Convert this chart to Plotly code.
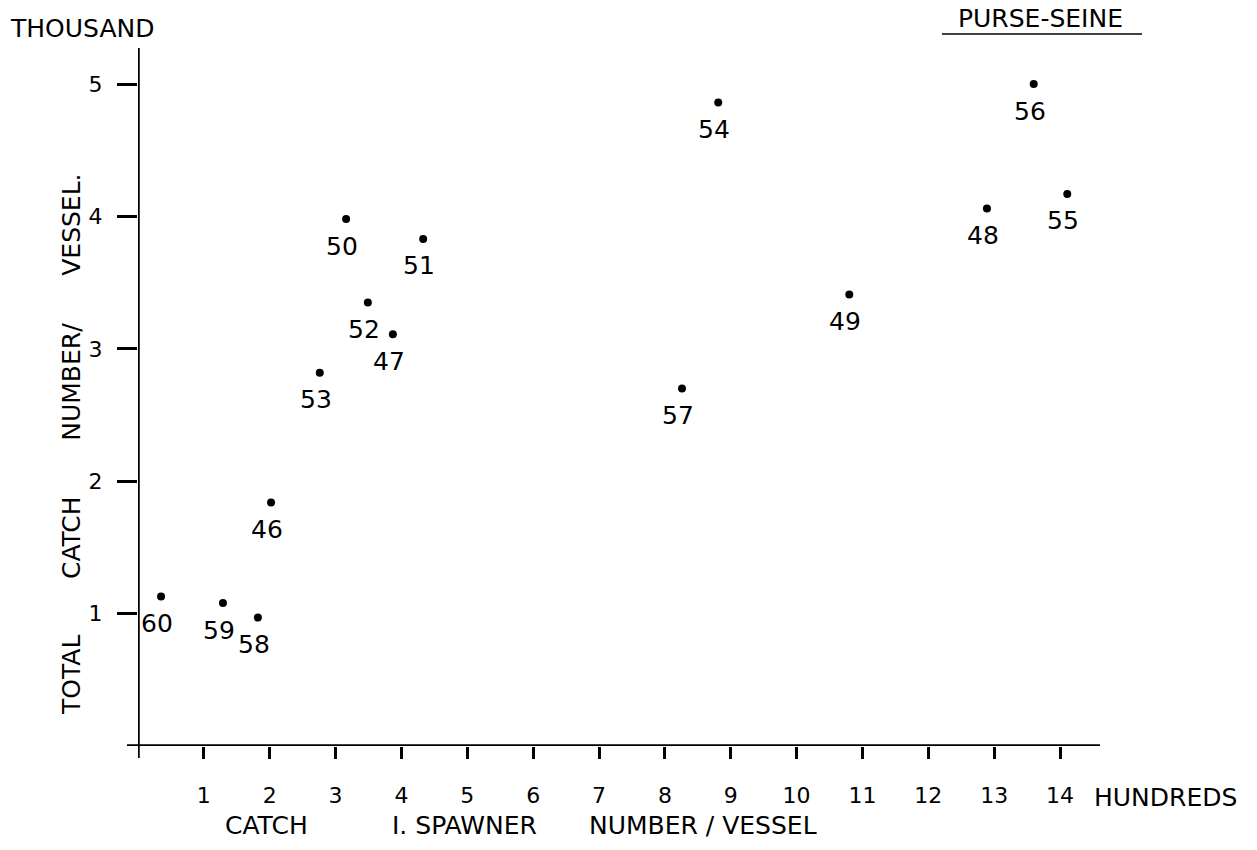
import plotly.graph_objects as go

# ---- data ----
years = ["46", "47", "48", "49", "50", "51", "52", "53", "54", "55", "56", "57", "58", "59", "60"]
spawner_catch = [2.02, 3.87, 12.89, 10.80, 3.16, 4.33, 3.49, 2.76, 8.81, 14.11, 13.60, 8.26, 1.82, 1.29, 0.35]  # hundreds
total_catch = [1.84, 3.11, 4.06, 3.41, 3.98, 3.83, 3.35, 2.82, 4.86, 4.17, 5.00, 2.70, 0.97, 1.08, 1.13]  # thousand
x_ticks = list(range(1, 15))
y_ticks = [1, 2, 3, 4, 5]

# ---- layout constants ----
W, H = 1257, 850
ML, MR, MT, MB = 138, 157, 48, 104
PW, PH = W - ML - MR, H - MT - MB
FONT = "DejaVu Sans"
SP = "\u00a0"


def px(xp):
    return (xp - ML) / PW


def py(yp):
    return (H - MB - yp) / PH


fig = go.Figure()
fig.add_trace(go.Scatter(
    x=spawner_catch, y=total_catch, mode="markers",
    marker=dict(size=8, color="black"),
    hoverinfo="text", text=years, showlegend=False,
))

annotations = []
for xv, yv, lab in zip(spawner_catch, total_catch, years):
    annotations.append(dict(x=xv, y=yv, xref="x", yref="y", text=lab, showarrow=False,
                            yshift=-27, xshift=-4,
                            font=dict(family=FONT, size=25, color="black")))

# titles / labels
annotations += [
    dict(x=px(8), y=py(28), xref="paper", yref="paper", text="THOUSAND", showarrow=False,
         xanchor="left", yanchor="middle", font=dict(family=FONT, size=25, color="black")),
    dict(x=px(1040), y=py(18), xref="paper", yref="paper", text="PURSE-SEINE", showarrow=False,
         xanchor="center", yanchor="middle", font=dict(family=FONT, size=25, color="black")),
    dict(x=px(1092), y=py(797), xref="paper", yref="paper", text="HUNDREDS", showarrow=False,
         xanchor="left", yanchor="middle", font=dict(family=FONT, size=25, color="black")),
    dict(x=px(223), y=py(825), xref="paper", yref="paper", text="CATCH", showarrow=False,
         xanchor="left", yanchor="middle", font=dict(family=FONT, size=25, color="black")),
    dict(x=px(390), y=py(825), xref="paper", yref="paper", text="I." + SP + "SPAWNER", showarrow=False,
         xanchor="left", yanchor="middle", font=dict(family=FONT, size=25, color="black")),
    dict(x=px(587), y=py(825), xref="paper", yref="paper", text="NUMBER" + SP + "/" + SP + "VESSEL",
         showarrow=False, xanchor="left", yanchor="middle",
         font=dict(family=FONT, size=25, color="black")),
    dict(x=px(71), y=py(444), xref="paper", yref="paper",
         text=("TOTAL" + SP * 7 + "CATCH" + SP * 7 + "NUMBER/" + SP * 6 + "VESSEL."),
         showarrow=False, textangle=-90, xanchor="center", yanchor="middle",
         font=dict(family=FONT, size=25, color="black")),
]

shapes = [
    # y axis line (extends slightly below the x axis)
    dict(type="line", xref="x", yref="paper", x0=0, x1=0, y0=-12 / PH, y1=1, layer="above",
         line=dict(color="black", width=3.5)),
    # x axis line (extends slightly left of the y axis)
    dict(type="line", xref="paper", yref="y", x0=-11 / PW, x1=1, y0=0, y1=0, layer="above",
         line=dict(color="black", width=3.5)),
    # underline of PURSE-SEINE
    dict(type="line", xref="paper", yref="paper", x0=px(942), x1=px(1142), y0=py(34), y1=py(34),
         line=dict(color="black", width=1.5)),
]

fig.update_layout(
    width=W, height=H,
    margin=dict(l=ML, r=MR, t=MT, b=MB),
    paper_bgcolor="white", plot_bgcolor="white",
    annotations=annotations, shapes=shapes,
    font=dict(family=FONT, color="black"),
    xaxis=dict(range=[0, PW / 65.86], tickvals=x_ticks, ticktext=[str(v) for v in x_ticks],
               ticks="outside", ticklen=12, tickwidth=3, tickcolor="black",
               showgrid=False, zeroline=False, showline=False,
               tickfont=dict(family=FONT, size=22, color="black"), ticklabelstandoff=18),
    yaxis=dict(range=[0, PH / 132.4], tickvals=y_ticks, ticktext=[str(v) for v in y_ticks],
               ticks="outside", ticklen=20, tickwidth=3, tickcolor="black",
               showgrid=False, zeroline=False, showline=False,
               tickfont=dict(family=FONT, size=22, color="black"), ticklabelstandoff=10),
)

fig.write_html("out.html")
